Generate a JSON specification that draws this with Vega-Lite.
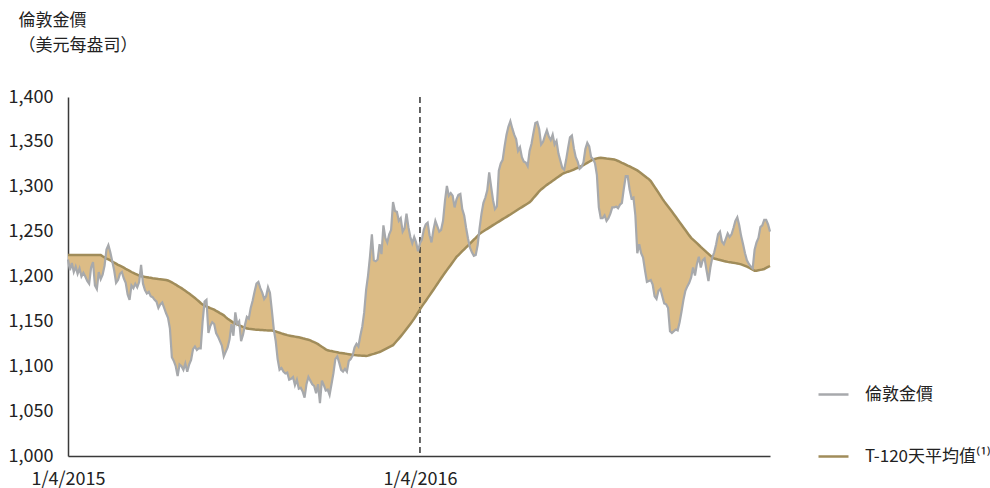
{
  "$schema": "https://vega.github.io/schema/vega-lite/v6.json",
  "width": 702,
  "height": 359,
  "autosize": {"type": "none"},
  "padding": {"left": 68, "top": 97, "right": 220, "bottom": 32},
  "background": "white",
  "config": {
    "font": "Noto Sans CJK TC",
    "view": {"stroke": null},
    "axis": {
      "grid": false,
      "ticks": false,
      "domainColor": "#3a3a3a",
      "domainWidth": 1.5,
      "labelColor": "#222222",
      "labelFontSize": 18,
      "labelFont": "Noto Sans CJK TC"
    },
    "legend": {
      "orient": "none",
      "legendX": 749,
      "legendY": 281,
      "padding": 0,
      "symbolType": "stroke",
      "symbolSize": 900,
      "symbolStrokeWidth": 2.5,
      "labelFontSize": 17,
      "labelColor": "#222222",
      "labelOffset": 15,
      "rowPadding": 37
    }
  },
  "data": {"values": [
    {"date":"2015-04-01","gold":1219,"ma120":1224},{"date":"2015-04-03","gold":1207,"ma120":1224},{"date":"2015-04-05","gold":1215,"ma120":1224},{"date":"2015-04-07","gold":1205,"ma120":1224},{"date":"2015-04-09","gold":1211,"ma120":1224},{"date":"2015-04-11","gold":1203,"ma120":1224},{"date":"2015-04-13","gold":1209,"ma120":1224},{"date":"2015-04-15","gold":1200,"ma120":1224},{"date":"2015-04-17","gold":1204,"ma120":1224},{"date":"2015-04-19","gold":1200,"ma120":1224},{"date":"2015-04-21","gold":1195,"ma120":1224},{"date":"2015-04-23","gold":1192,"ma120":1224},{"date":"2015-04-25","gold":1210,"ma120":1224},{"date":"2015-04-27","gold":1216,"ma120":1224},{"date":"2015-04-29","gold":1190,"ma120":1224},
    {"date":"2015-05-01","gold":1186,"ma120":1224},{"date":"2015-05-03","gold":1205,"ma120":1224},{"date":"2015-05-05","gold":1197,"ma120":1224},{"date":"2015-05-07","gold":1202,"ma120":1222.5},{"date":"2015-05-09","gold":1212,"ma120":1221.3},{"date":"2015-05-11","gold":1230,"ma120":1220},{"date":"2015-05-13","gold":1235,"ma120":1219},{"date":"2015-05-15","gold":1227,"ma120":1218},{"date":"2015-05-17","gold":1217,"ma120":1216.5},{"date":"2015-05-19","gold":1207,"ma120":1215.5},{"date":"2015-05-21","gold":1193,"ma120":1214.3},{"date":"2015-05-23","gold":1196,"ma120":1213},{"date":"2015-05-25","gold":1203,"ma120":1212},{"date":"2015-05-27","gold":1205,"ma120":1211},{"date":"2015-05-29","gold":1198,"ma120":1209.8},{"date":"2015-05-31","gold":1193,"ma120":1208.6},
    {"date":"2015-06-02","gold":1180,"ma120":1207.5},{"date":"2015-06-04","gold":1174,"ma120":1206.3},{"date":"2015-06-06","gold":1190,"ma120":1205},{"date":"2015-06-08","gold":1187,"ma120":1204},{"date":"2015-06-10","gold":1192,"ma120":1203},{"date":"2015-06-12","gold":1188,"ma120":1202},{"date":"2015-06-14","gold":1194,"ma120":1201},{"date":"2015-06-16","gold":1213,"ma120":1200.3},{"date":"2015-06-18","gold":1192,"ma120":1200},{"date":"2015-06-20","gold":1185,"ma120":1199.6},{"date":"2015-06-22","gold":1181,"ma120":1199.2},{"date":"2015-06-24","gold":1183,"ma120":1198.8},{"date":"2015-06-26","gold":1178,"ma120":1198.5},{"date":"2015-06-28","gold":1177,"ma120":1198.1},{"date":"2015-06-30","gold":1174,"ma120":1197.8},
    {"date":"2015-07-02","gold":1172,"ma120":1197.5},{"date":"2015-07-04","gold":1165,"ma120":1197.2},{"date":"2015-07-06","gold":1169,"ma120":1197},{"date":"2015-07-08","gold":1171,"ma120":1196.7},{"date":"2015-07-10","gold":1165,"ma120":1196.4},{"date":"2015-07-12","gold":1159,"ma120":1196.1},{"date":"2015-07-14","gold":1154,"ma120":1195.5},{"date":"2015-07-16","gold":1142,"ma120":1194.6},{"date":"2015-07-18","gold":1110,"ma120":1193.4},{"date":"2015-07-20","gold":1106,"ma120":1192.2},{"date":"2015-07-22","gold":1100,"ma120":1191},{"date":"2015-07-24","gold":1089,"ma120":1189.6},{"date":"2015-07-26","gold":1102,"ma120":1188.3},{"date":"2015-07-28","gold":1100,"ma120":1187},{"date":"2015-07-30","gold":1096,"ma120":1185.6},
    {"date":"2015-08-01","gold":1103,"ma120":1184},{"date":"2015-08-03","gold":1094,"ma120":1182.5},{"date":"2015-08-05","gold":1102,"ma120":1181},{"date":"2015-08-07","gold":1107,"ma120":1179.3},{"date":"2015-08-09","gold":1119,"ma120":1177.7},{"date":"2015-08-11","gold":1122,"ma120":1176},{"date":"2015-08-13","gold":1118,"ma120":1174.2},{"date":"2015-08-15","gold":1120,"ma120":1172.4},{"date":"2015-08-17","gold":1120,"ma120":1170.5},{"date":"2015-08-19","gold":1150,"ma120":1168.7},{"date":"2015-08-21","gold":1172,"ma120":1167.5},{"date":"2015-08-23","gold":1174,"ma120":1166.5},{"date":"2015-08-25","gold":1137,"ma120":1165.7},{"date":"2015-08-27","gold":1145,"ma120":1164.8},{"date":"2015-08-29","gold":1149,"ma120":1164},{"date":"2015-08-31","gold":1147,"ma120":1163},
    {"date":"2015-09-02","gold":1137,"ma120":1161.7},{"date":"2015-09-04","gold":1133,"ma120":1160.5},{"date":"2015-09-06","gold":1128,"ma120":1159.2},{"date":"2015-09-08","gold":1123,"ma120":1158},{"date":"2015-09-10","gold":1111,"ma120":1156.7},{"date":"2015-09-12","gold":1116,"ma120":1154.7},{"date":"2015-09-14","gold":1121,"ma120":1153},{"date":"2015-09-16","gold":1130,"ma120":1151.5},{"date":"2015-09-18","gold":1147,"ma120":1150},{"date":"2015-09-20","gold":1134,"ma120":1148.5},{"date":"2015-09-22","gold":1160,"ma120":1147.5},{"date":"2015-09-24","gold":1147,"ma120":1146.6},{"date":"2015-09-26","gold":1150,"ma120":1145.6},{"date":"2015-09-28","gold":1128,"ma120":1144.7},{"date":"2015-09-30","gold":1135,"ma120":1143.8},
    {"date":"2015-10-02","gold":1146,"ma120":1143},{"date":"2015-10-04","gold":1155,"ma120":1142},{"date":"2015-10-06","gold":1153,"ma120":1141.7},{"date":"2015-10-08","gold":1165,"ma120":1141.5},{"date":"2015-10-10","gold":1173,"ma120":1141.3},{"date":"2015-10-12","gold":1183,"ma120":1141},{"date":"2015-10-14","gold":1192,"ma120":1140.8},{"date":"2015-10-16","gold":1194,"ma120":1140.6},{"date":"2015-10-18","gold":1187,"ma120":1140.4},{"date":"2015-10-20","gold":1182,"ma120":1140.3},{"date":"2015-10-22","gold":1175,"ma120":1140.2},{"date":"2015-10-24","gold":1178,"ma120":1140},{"date":"2015-10-26","gold":1188,"ma120":1139.9},{"date":"2015-10-28","gold":1182,"ma120":1139.8},{"date":"2015-10-30","gold":1162,"ma120":1139.7},
    {"date":"2015-11-01","gold":1141,"ma120":1139.4},{"date":"2015-11-03","gold":1128,"ma120":1138.7},{"date":"2015-11-05","gold":1108,"ma120":1138},{"date":"2015-11-07","gold":1096,"ma120":1137.3},{"date":"2015-11-09","gold":1098,"ma120":1136.6},{"date":"2015-11-11","gold":1094,"ma120":1136},{"date":"2015-11-13","gold":1092,"ma120":1135.3},{"date":"2015-11-15","gold":1093,"ma120":1134.7},{"date":"2015-11-17","gold":1085,"ma120":1134.2},{"date":"2015-11-19","gold":1086,"ma120":1133.8},{"date":"2015-11-21","gold":1088,"ma120":1133.4},{"date":"2015-11-23","gold":1079,"ma120":1133},{"date":"2015-11-25","gold":1085,"ma120":1132.6},{"date":"2015-11-27","gold":1075,"ma120":1132.2},{"date":"2015-11-29","gold":1076,"ma120":1131.8},
    {"date":"2015-12-01","gold":1072,"ma120":1131.2},{"date":"2015-12-03","gold":1065,"ma120":1130.7},{"date":"2015-12-05","gold":1080,"ma120":1130},{"date":"2015-12-07","gold":1088,"ma120":1129.5},{"date":"2015-12-09","gold":1084,"ma120":1128.9},{"date":"2015-12-11","gold":1080,"ma120":1127.8},{"date":"2015-12-13","gold":1078,"ma120":1126.8},{"date":"2015-12-15","gold":1070,"ma120":1125.9},{"date":"2015-12-17","gold":1080,"ma120":1124.6},{"date":"2015-12-19","gold":1059,"ma120":1123.2},{"date":"2015-12-21","gold":1084,"ma120":1121.7},{"date":"2015-12-23","gold":1079,"ma120":1120.3},{"date":"2015-12-25","gold":1073,"ma120":1118.8},{"date":"2015-12-27","gold":1074,"ma120":1117.8},{"date":"2015-12-29","gold":1068,"ma120":1117.3},{"date":"2015-12-31","gold":1080,"ma120":1116.9},
    {"date":"2016-01-02","gold":1092,"ma120":1116.4},{"date":"2016-01-04","gold":1108,"ma120":1116},{"date":"2016-01-06","gold":1111,"ma120":1115.6},{"date":"2016-01-08","gold":1104,"ma120":1115.1},{"date":"2016-01-10","gold":1096,"ma120":1114.8},{"date":"2016-01-12","gold":1094,"ma120":1114.5},{"date":"2016-01-14","gold":1097,"ma120":1114.1},{"date":"2016-01-16","gold":1094,"ma120":1113.8},{"date":"2016-01-18","gold":1106,"ma120":1113.4},{"date":"2016-01-20","gold":1108,"ma120":1113},{"date":"2016-01-22","gold":1112,"ma120":1112.6},{"date":"2016-01-24","gold":1121,"ma120":1112.4},{"date":"2016-01-26","gold":1125,"ma120":1112.2},{"date":"2016-01-28","gold":1122,"ma120":1112.1},{"date":"2016-01-30","gold":1134,"ma120":1111.9},
    {"date":"2016-02-01","gold":1144,"ma120":1111.8},{"date":"2016-02-03","gold":1160,"ma120":1111.6},{"date":"2016-02-05","gold":1185,"ma120":1111.4},{"date":"2016-02-07","gold":1201,"ma120":1111.8},{"date":"2016-02-09","gold":1222,"ma120":1112.5},{"date":"2016-02-11","gold":1247,"ma120":1113.2},{"date":"2016-02-13","gold":1218,"ma120":1113.8},{"date":"2016-02-15","gold":1217,"ma120":1114.5},{"date":"2016-02-17","gold":1219,"ma120":1115.2},{"date":"2016-02-19","gold":1236,"ma120":1115.9},{"date":"2016-02-21","gold":1225,"ma120":1116.9},{"date":"2016-02-23","gold":1257,"ma120":1118},{"date":"2016-02-25","gold":1243,"ma120":1119.1},{"date":"2016-02-27","gold":1238,"ma120":1120.2},{"date":"2016-02-29","gold":1247,"ma120":1121.3},
    {"date":"2016-03-02","gold":1252,"ma120":1122.4},{"date":"2016-03-04","gold":1283,"ma120":1123.5},{"date":"2016-03-06","gold":1273,"ma120":1125.9},{"date":"2016-03-08","gold":1272,"ma120":1128.4},{"date":"2016-03-10","gold":1262,"ma120":1130.8},{"date":"2016-03-12","gold":1265,"ma120":1133.3},{"date":"2016-03-14","gold":1250,"ma120":1135.9},{"date":"2016-03-16","gold":1254,"ma120":1138.6},{"date":"2016-03-18","gold":1270,"ma120":1141.5},{"date":"2016-03-20","gold":1255,"ma120":1144.3},{"date":"2016-03-22","gold":1244,"ma120":1147.1},{"date":"2016-03-24","gold":1237,"ma120":1150},{"date":"2016-03-26","gold":1244,"ma120":1153},{"date":"2016-03-28","gold":1238,"ma120":1156.5},{"date":"2016-03-30","gold":1228,"ma120":1159.9},
    {"date":"2016-04-01","gold":1237,"ma120":1163.4},{"date":"2016-04-03","gold":1241,"ma120":1166.7},{"date":"2016-04-05","gold":1252,"ma120":1169.8},{"date":"2016-04-07","gold":1258,"ma120":1172.8},{"date":"2016-04-09","gold":1260,"ma120":1175.9},{"date":"2016-04-11","gold":1246,"ma120":1179},{"date":"2016-04-13","gold":1238,"ma120":1182.1},{"date":"2016-04-15","gold":1252,"ma120":1185.2},{"date":"2016-04-17","gold":1262,"ma120":1188.4},{"date":"2016-04-19","gold":1256,"ma120":1191.6},{"date":"2016-04-21","gold":1250,"ma120":1194.9},{"date":"2016-04-23","gold":1252,"ma120":1198.1},{"date":"2016-04-25","gold":1262,"ma120":1201.2},{"date":"2016-04-27","gold":1284,"ma120":1204.1},{"date":"2016-04-29","gold":1301,"ma120":1207.1},
    {"date":"2016-05-01","gold":1290,"ma120":1210},{"date":"2016-05-03","gold":1293,"ma120":1212.9},{"date":"2016-05-05","gold":1290,"ma120":1215.9},{"date":"2016-05-07","gold":1277,"ma120":1218.8},{"date":"2016-05-09","gold":1286,"ma120":1221.8},{"date":"2016-05-11","gold":1291,"ma120":1223.9},{"date":"2016-05-13","gold":1292,"ma120":1226},{"date":"2016-05-15","gold":1275,"ma120":1228.2},{"date":"2016-05-17","gold":1268,"ma120":1230.3},{"date":"2016-05-19","gold":1254,"ma120":1232.4},{"date":"2016-05-21","gold":1242,"ma120":1234.5},{"date":"2016-05-23","gold":1232,"ma120":1236.6},{"date":"2016-05-25","gold":1227,"ma120":1238.8},{"date":"2016-05-27","gold":1223,"ma120":1241},{"date":"2016-05-29","gold":1224,"ma120":1243.1},{"date":"2016-05-31","gold":1235,"ma120":1245.3},
    {"date":"2016-06-02","gold":1254,"ma120":1247.5},{"date":"2016-06-04","gold":1270,"ma120":1249.1},{"date":"2016-06-06","gold":1282,"ma120":1250.4},{"date":"2016-06-08","gold":1288,"ma120":1251.8},{"date":"2016-06-10","gold":1296,"ma120":1253.1},{"date":"2016-06-12","gold":1316,"ma120":1254.5},{"date":"2016-06-14","gold":1300,"ma120":1255.8},{"date":"2016-06-16","gold":1285,"ma120":1257.2},{"date":"2016-06-18","gold":1275,"ma120":1258.5},{"date":"2016-06-20","gold":1278,"ma120":1259.9},{"date":"2016-06-22","gold":1318,"ma120":1261.2},{"date":"2016-06-24","gold":1326,"ma120":1262.5},{"date":"2016-06-26","gold":1330,"ma120":1263.9},{"date":"2016-06-28","gold":1345,"ma120":1265.2},{"date":"2016-06-30","gold":1358,"ma120":1266.5},
    {"date":"2016-07-02","gold":1367,"ma120":1267.8},{"date":"2016-07-04","gold":1373,"ma120":1269.1},{"date":"2016-07-06","gold":1365,"ma120":1270.5},{"date":"2016-07-08","gold":1358,"ma120":1271.8},{"date":"2016-07-10","gold":1353,"ma120":1273.2},{"date":"2016-07-12","gold":1340,"ma120":1274.6},{"date":"2016-07-14","gold":1344,"ma120":1276},{"date":"2016-07-16","gold":1333,"ma120":1277.3},{"date":"2016-07-18","gold":1328,"ma120":1278.7},{"date":"2016-07-20","gold":1327,"ma120":1280},{"date":"2016-07-22","gold":1323,"ma120":1281.3},{"date":"2016-07-24","gold":1340,"ma120":1282.7},{"date":"2016-07-26","gold":1348,"ma120":1284.9},{"date":"2016-07-28","gold":1360,"ma120":1287.4},{"date":"2016-07-30","gold":1371,"ma120":1289.9},
    {"date":"2016-08-01","gold":1372,"ma120":1292.4},{"date":"2016-08-03","gold":1364,"ma120":1295},{"date":"2016-08-05","gold":1347,"ma120":1297},{"date":"2016-08-07","gold":1350,"ma120":1298.7},{"date":"2016-08-09","gold":1357,"ma120":1300.4},{"date":"2016-08-11","gold":1363,"ma120":1302.1},{"date":"2016-08-13","gold":1356,"ma120":1303.6},{"date":"2016-08-15","gold":1352,"ma120":1305.1},{"date":"2016-08-17","gold":1358,"ma120":1306.6},{"date":"2016-08-19","gold":1347,"ma120":1308.2},{"date":"2016-08-21","gold":1351,"ma120":1309.7},{"date":"2016-08-23","gold":1337,"ma120":1311.2},{"date":"2016-08-25","gold":1329,"ma120":1312.7},{"date":"2016-08-27","gold":1321,"ma120":1314.2},{"date":"2016-08-29","gold":1319,"ma120":1315.3},{"date":"2016-08-31","gold":1330,"ma120":1316},
    {"date":"2016-09-02","gold":1343,"ma120":1316.8},{"date":"2016-09-04","gold":1355,"ma120":1317.4},{"date":"2016-09-06","gold":1357,"ma120":1318.2},{"date":"2016-09-08","gold":1343,"ma120":1319},{"date":"2016-09-10","gold":1333,"ma120":1320.1},{"date":"2016-09-12","gold":1328,"ma120":1321.1},{"date":"2016-09-14","gold":1320,"ma120":1322.1},{"date":"2016-09-16","gold":1322,"ma120":1323.1},{"date":"2016-09-18","gold":1327,"ma120":1324.1},{"date":"2016-09-20","gold":1342,"ma120":1325.3},{"date":"2016-09-22","gold":1349,"ma120":1326.6},{"date":"2016-09-24","gold":1345,"ma120":1327.9},{"date":"2016-09-26","gold":1333,"ma120":1329.1},{"date":"2016-09-28","gold":1331,"ma120":1330.4},{"date":"2016-09-30","gold":1326,"ma120":1331},
    {"date":"2016-10-02","gold":1313,"ma120":1331.6},{"date":"2016-10-04","gold":1277,"ma120":1332.1},{"date":"2016-10-06","gold":1265,"ma120":1332.3},{"date":"2016-10-08","gold":1265,"ma120":1332.1},{"date":"2016-10-10","gold":1268,"ma120":1331.8},{"date":"2016-10-12","gold":1262,"ma120":1331.5},{"date":"2016-10-14","gold":1265,"ma120":1331.3},{"date":"2016-10-16","gold":1270,"ma120":1331},{"date":"2016-10-18","gold":1277,"ma120":1330.7},{"date":"2016-10-20","gold":1277,"ma120":1330.3},{"date":"2016-10-22","gold":1278,"ma120":1329.6},{"date":"2016-10-24","gold":1276,"ma120":1328.7},{"date":"2016-10-26","gold":1280,"ma120":1327.7},{"date":"2016-10-28","gold":1282,"ma120":1326.7},{"date":"2016-10-30","gold":1298,"ma120":1325.8},
    {"date":"2016-11-01","gold":1312,"ma120":1324.7},{"date":"2016-11-03","gold":1312,"ma120":1323.6},{"date":"2016-11-05","gold":1297,"ma120":1322.6},{"date":"2016-11-07","gold":1287,"ma120":1321.5},{"date":"2016-11-09","gold":1288,"ma120":1320.5},{"date":"2016-11-11","gold":1268,"ma120":1319.4},{"date":"2016-11-13","gold":1226,"ma120":1318.2},{"date":"2016-11-15","gold":1236,"ma120":1316.6},{"date":"2016-11-17","gold":1226,"ma120":1315},{"date":"2016-11-19","gold":1221,"ma120":1313.4},{"date":"2016-11-21","gold":1207,"ma120":1311.8},{"date":"2016-11-23","gold":1194,"ma120":1310.1},{"date":"2016-11-25","gold":1195,"ma120":1308.5},{"date":"2016-11-27","gold":1196,"ma120":1306.3},{"date":"2016-11-29","gold":1191,"ma120":1303.1},
    {"date":"2016-12-01","gold":1178,"ma120":1299.9},{"date":"2016-12-03","gold":1175,"ma120":1296.7},{"date":"2016-12-05","gold":1184,"ma120":1293.4},{"date":"2016-12-07","gold":1186,"ma120":1290.1},{"date":"2016-12-09","gold":1178,"ma120":1286.8},{"date":"2016-12-11","gold":1170,"ma120":1283.7},{"date":"2016-12-13","gold":1169,"ma120":1280.8},{"date":"2016-12-15","gold":1165,"ma120":1278},{"date":"2016-12-17","gold":1139,"ma120":1275.1},{"date":"2016-12-19","gold":1137,"ma120":1272.3},{"date":"2016-12-21","gold":1139,"ma120":1269.4},{"date":"2016-12-23","gold":1141,"ma120":1266.5},{"date":"2016-12-25","gold":1140,"ma120":1263.6},{"date":"2016-12-27","gold":1149,"ma120":1260.6},{"date":"2016-12-29","gold":1161,"ma120":1257.7},{"date":"2016-12-31","gold":1174,"ma120":1254.7},
    {"date":"2017-01-02","gold":1184,"ma120":1251.8},{"date":"2017-01-04","gold":1189,"ma120":1248.8},{"date":"2017-01-06","gold":1193,"ma120":1245.8},{"date":"2017-01-08","gold":1199,"ma120":1243.1},{"date":"2017-01-10","gold":1210,"ma120":1241.1},{"date":"2017-01-12","gold":1201,"ma120":1239.1},{"date":"2017-01-14","gold":1214,"ma120":1237.1},{"date":"2017-01-16","gold":1222,"ma120":1235.1},{"date":"2017-01-18","gold":1210,"ma120":1233},{"date":"2017-01-20","gold":1218,"ma120":1231},{"date":"2017-01-22","gold":1220,"ma120":1229.1},{"date":"2017-01-24","gold":1207,"ma120":1227.1},{"date":"2017-01-26","gold":1195,"ma120":1225.2},{"date":"2017-01-28","gold":1210,"ma120":1223.3},{"date":"2017-01-30","gold":1221,"ma120":1221.4},
    {"date":"2017-02-01","gold":1227,"ma120":1220},{"date":"2017-02-03","gold":1236,"ma120":1219.5},{"date":"2017-02-05","gold":1247,"ma120":1218.9},{"date":"2017-02-07","gold":1250,"ma120":1218.4},{"date":"2017-02-09","gold":1239,"ma120":1217.9},{"date":"2017-02-11","gold":1236,"ma120":1217.3},{"date":"2017-02-13","gold":1242,"ma120":1216.8},{"date":"2017-02-15","gold":1248,"ma120":1216.3},{"date":"2017-02-17","gold":1244,"ma120":1216},{"date":"2017-02-19","gold":1247,"ma120":1215.6},{"date":"2017-02-21","gold":1254,"ma120":1215.2},{"date":"2017-02-23","gold":1262,"ma120":1214.9},{"date":"2017-02-25","gold":1266,"ma120":1214.5},{"date":"2017-02-27","gold":1257,"ma120":1214.1},
    {"date":"2017-03-01","gold":1245,"ma120":1213.5},{"date":"2017-03-03","gold":1236,"ma120":1212.7},{"date":"2017-03-05","gold":1226,"ma120":1211.8},{"date":"2017-03-07","gold":1218,"ma120":1210.9},{"date":"2017-03-09","gold":1214,"ma120":1210},{"date":"2017-03-11","gold":1211,"ma120":1208.8},{"date":"2017-03-13","gold":1209,"ma120":1207.6},{"date":"2017-03-15","gold":1230,"ma120":1206.4},{"date":"2017-03-17","gold":1238,"ma120":1206.4},{"date":"2017-03-19","gold":1243,"ma120":1206.9},{"date":"2017-03-21","gold":1255,"ma120":1207.4},{"date":"2017-03-23","gold":1257,"ma120":1207.8},{"date":"2017-03-25","gold":1263,"ma120":1208.4},{"date":"2017-03-27","gold":1263,"ma120":1209.5},{"date":"2017-03-29","gold":1258,"ma120":1210.6},{"date":"2017-03-31","gold":1250,"ma120":1211.7}
  ]},
  "encoding": {
    "x": {
      "field": "date",
      "type": "temporal",
      "scale": {
        "type": "utc",
        "domain": [
          {"year": 2015, "month": 4, "date": 1, "utc": true},
          {"year": 2017, "month": 3, "date": 31, "utc": true}
        ]
      },
      "axis": {
        "title": null,
        "values": [
          {"year": 2015, "month": 4, "date": 1, "utc": true},
          {"year": 2016, "month": 4, "date": 1, "utc": true}
        ],
        "labelExpr": "utcFormat(datum.value, '%-d/%-m/%Y')",
        "labelFlush": false,
        "labelPadding": 14
      }
    }
  },
  "layer": [
    {
      "mark": {"type": "area", "color": "#dcbc86", "opacity": 1},
      "encoding": {
        "y": {
          "field": "gold",
          "type": "quantitative",
          "scale": {"domain": [1000, 1400], "nice": false, "zero": false},
          "axis": {
            "values": [1000, 1050, 1100, 1150, 1200, 1250, 1300, 1350, 1400],
            "format": ",d",
            "labelPadding": 15,
            "title": ["倫敦金價", "（美元每盎司）"],
            "titleAngle": 0,
            "titleAlign": "left",
            "titleBaseline": "top",
            "titleX": -50,
            "titleY": -85,
            "titleFontSize": 17,
            "titleFontWeight": "normal",
            "titleColor": "#222222",
            "titleLineHeight": 25
          }
        },
        "y2": {"field": "ma120"}
      }
    },
    {
      "data": {"values": [{"date": "2016-04-01"}]},
      "mark": {"type": "rule", "color": "#333333", "strokeWidth": 1.5, "strokeDash": [6, 4]},
      "encoding": {}
    },
    {
      "mark": {"type": "line", "strokeWidth": 2.5},
      "encoding": {
        "y": {"field": "ma120", "type": "quantitative"},
        "color": {
          "datum": "T-120天平均值⁽¹⁾",
          "type": "nominal",
          "scale": {"domain": ["倫敦金價", "T-120天平均值⁽¹⁾"], "range": ["#a7a9ac", "#a08c5a"]},
          "legend": {"title": null}
        }
      }
    },
    {
      "mark": {"type": "line", "strokeWidth": 2.2},
      "encoding": {
        "y": {"field": "gold", "type": "quantitative"},
        "color": {"datum": "倫敦金價", "type": "nominal"}
      }
    }
  ]
}
